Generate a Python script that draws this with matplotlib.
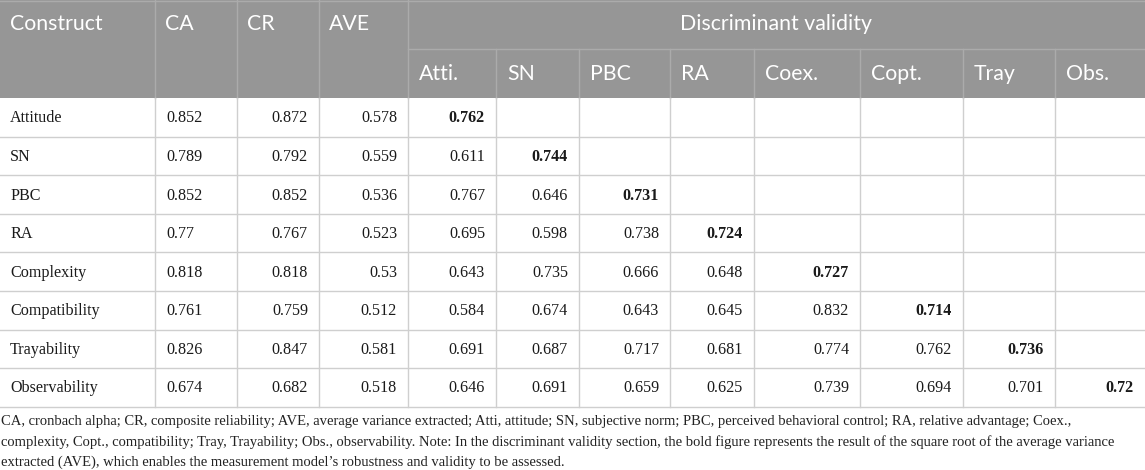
import matplotlib
matplotlib.use("Agg")
import matplotlib.pyplot as plt
from matplotlib.patches import Rectangle

# table content
constructs = ["Attitude", "SN", "PBC", "RA", "Complexity", "Compatibility",
              "Trayability", "Observability"]
ca = ["0.852", "0.789", "0.852", "0.77", "0.818", "0.761", "0.826", "0.674"]
cr = ["0.872", "0.792", "0.852", "0.767", "0.818", "0.759", "0.847", "0.682"]
ave = ["0.578", "0.559", "0.536", "0.523", "0.53", "0.512", "0.581", "0.518"]
disc_labels = ["Atti.", "SN", "PBC", "RA", "Coex.", "Copt.", "Tray", "Obs."]
# lower triangle, last value of each row is the bold diagonal
disc = [
    ["0.762"],
    ["0.611", "0.744"],
    ["0.767", "0.646", "0.731"],
    ["0.695", "0.598", "0.738", "0.724"],
    ["0.643", "0.735", "0.666", "0.648", "0.727"],
    ["0.584", "0.674", "0.643", "0.645", "0.832", "0.714"],
    ["0.691", "0.687", "0.717", "0.681", "0.774", "0.762", "0.736"],
    ["0.646", "0.691", "0.659", "0.625", "0.739", "0.694", "0.701", "0.72"],
]
caption = [
    "CA, cronbach alpha; CR, composite reliability; AVE, average variance extracted; Atti, attitude; SN, subjective norm; PBC, perceived behavioral control; RA, relative advantage; Coex.,",
    "complexity, Copt., compatibility; Tray, Trayability; Obs., observability. Note: In the discriminant validity section, the bold figure represents the result of the square root of the average variance",
    "extracted (AVE), which enables the measurement model\u2019s robustness and validity to be assessed.",
]

W, H = 1145, 470
col_x = [0, 155, 237, 319, 408, 496, 579, 670, 754, 860, 963, 1055, 1145]
head_mid, head_bot = 49, 98
row_h = 38.6
pad = 11

header_bg = "#969696"
head_line = "#ababab"
grid = "#cfcfcf"
sans = "Lato"
serif = "Liberation Serif"

fig = plt.figure(figsize=(W / 100, H / 100), dpi=100)
ax = fig.add_axes([0, 0, 1, 1])
ax.set_xlim(0, W)
ax.set_ylim(H, 0)
ax.axis("off")

# header block
ax.add_patch(Rectangle((0, 0), W, head_bot, color=header_bg, lw=0))
ax.plot([0, W], [0.5, 0.5], color=head_line, lw=1)
for x in col_x[1:5]:
    ax.plot([x, x], [0, head_bot], color=head_line, lw=1)
ax.plot([col_x[4], W], [head_mid, head_mid], color=head_line, lw=1)
for x in col_x[5:-1]:
    ax.plot([x, x], [head_mid, head_bot], color=head_line, lw=1)

hfs = 15.3
for lab, x in zip(["Construct", "CA", "CR", "AVE"], col_x[:4]):
    ax.text(x + pad - 1, head_mid / 2, lab, color="white", family=sans,
            fontsize=hfs, ha="left", va="center")
ax.text((col_x[4] + W) / 2, head_mid / 2, "Discriminant validity", color="white",
        family=sans, fontsize=hfs, ha="center", va="center")
for lab, x in zip(disc_labels, col_x[4:-1]):
    ax.text(x + pad, (head_mid + head_bot) / 2 + 1, lab, color="white", family=sans,
            fontsize=hfs, ha="left", va="center")

# body grid
n = len(constructs)
bottom = head_bot + n * row_h
for i in range(1, n + 1):
    y = head_bot + i * row_h
    ax.plot([0, W], [y, y], color=grid, lw=1)
for x in col_x[1:-1]:
    ax.plot([x, x], [head_bot, bottom], color=grid, lw=1)

bfs = 11.6
for i, name in enumerate(constructs):
    yc = head_bot + (i + 0.5) * row_h + 1
    ax.text(pad - 1, yc, name, family=serif, fontsize=bfs, ha="left", va="center",
            color="#1a1a1a")
    ax.text(col_x[1] + pad, yc, ca[i], family=serif, fontsize=bfs, ha="left",
            va="center", color="#1a1a1a")
    for j, v in enumerate([cr[i], ave[i]]):
        ax.text(col_x[3 + j] - pad, yc, v, family=serif, fontsize=bfs, ha="right",
                va="center", color="#1a1a1a")
    for j, v in enumerate(disc[i]):
        bold = j == len(disc[i]) - 1
        ax.text(col_x[5 + j] - pad, yc, v, family=serif, fontsize=bfs, ha="right",
                va="center", color="#1a1a1a",
                fontweight="bold" if bold else "normal")

# footnote
for k, line in enumerate(caption):
    ax.text(1, 422 + 20 * k, line, family=serif, fontsize=10.55, ha="left",
            va="center", color="#222222")

fig.savefig("out.png", dpi=100)
